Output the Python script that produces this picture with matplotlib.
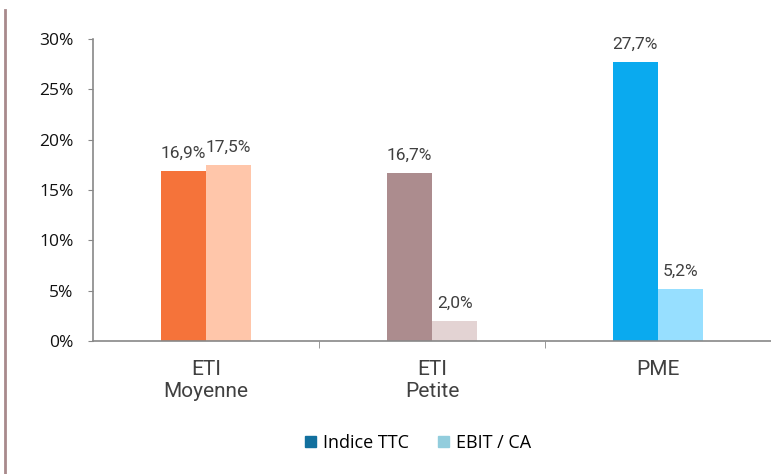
import matplotlib
matplotlib.use('Agg')
import matplotlib.pyplot as plt
from matplotlib.lines import Line2D
from matplotlib.patches import Patch
from matplotlib.ticker import FuncFormatter

categories = ['ETI\nMoyenne', 'ETI\nPetite', 'PME']
indice_ttc = [16.9, 16.7, 27.7]
ebit_ca = [17.5, 2.0, 5.2]
yticks = [0, 5, 10, 15, 20, 25, 30]

col_ttc = ['#F5733A', '#AC8C8E', '#0AAAEF']
col_ebit = ['#FFC6AA', '#E3D3D3', '#97DFFF']
legend_cols = ['#12709E', '#92CDDD']

fig = plt.figure(figsize=(7.71, 4.74), dpi=100)
ax = fig.add_axes([93/771, 1-341/474, 678/771, 302/474])

x = list(range(len(categories)))
w = 0.2
b1 = ax.bar([i - w/2 for i in x], indice_ttc, width=w, color=col_ttc)
b2 = ax.bar([i + w/2 for i in x], ebit_ca, width=w, color=col_ebit)

lab_font = dict(family=['Roboto', 'DejaVu Sans'], fontweight='normal', fontsize=12.5, color='#404040')
for bars, vals in ((b1, indice_ttc), (b2, ebit_ca)):
    for r, v in zip(bars, vals):
        ax.text(r.get_x() + r.get_width()/2, v + 1.0, f'{v:.1f}%'.replace('.', ','),
                ha='center', va='bottom', **lab_font)

ax.set_xlim(-0.5, 2.5)
ax.set_ylim(0, 30)
ax.set_yticks(yticks)
ax.yaxis.set_major_formatter(FuncFormatter(lambda v, p: f'{v:.0f}%'))
ax.set_xticks(x)
ax.set_xticklabels(categories, family=['Roboto', 'DejaVu Sans'], fontweight='normal',
                   fontsize=15, color='#404040', linespacing=1.15)
ax.set_xticks([0.5, 1.5], minor=True)
ax.tick_params(axis='x', which='major', length=0, pad=14)
ax.tick_params(axis='x', which='minor', length=5, color='#888888', direction='out')
ax.tick_params(axis='y', length=3.6, color='#888888', labelsize=12.5, pad=10.5)
for lbl in ax.get_yticklabels():
    lbl.set_family(['Open Sans', 'DejaVu Sans'])
    lbl.set_color('#111111')

for s in ('top', 'right'):
    ax.spines[s].set_visible(False)
for s in ('left', 'bottom'):
    ax.spines[s].set_color('#888888')
    ax.spines[s].set_linewidth(1.2)

handles = [Patch(color=legend_cols[0]), Patch(color=legend_cols[1])]
fig.legend(handles, ['Indice TTC', 'EBIT / CA'], loc='center', bbox_to_anchor=(418/771, 1-443/474),
           ncol=2, frameon=False, handlelength=0.6, handleheight=0.6, handletextpad=0.4,
           columnspacing=1.6, prop={'family': ['Open Sans', 'DejaVu Sans'], 'size': 13})

fig.add_artist(Line2D([5/771, 5/771], [0, 1-10/474], color='#A88A8C', lw=2))

fig.savefig('out.png', dpi=100)
